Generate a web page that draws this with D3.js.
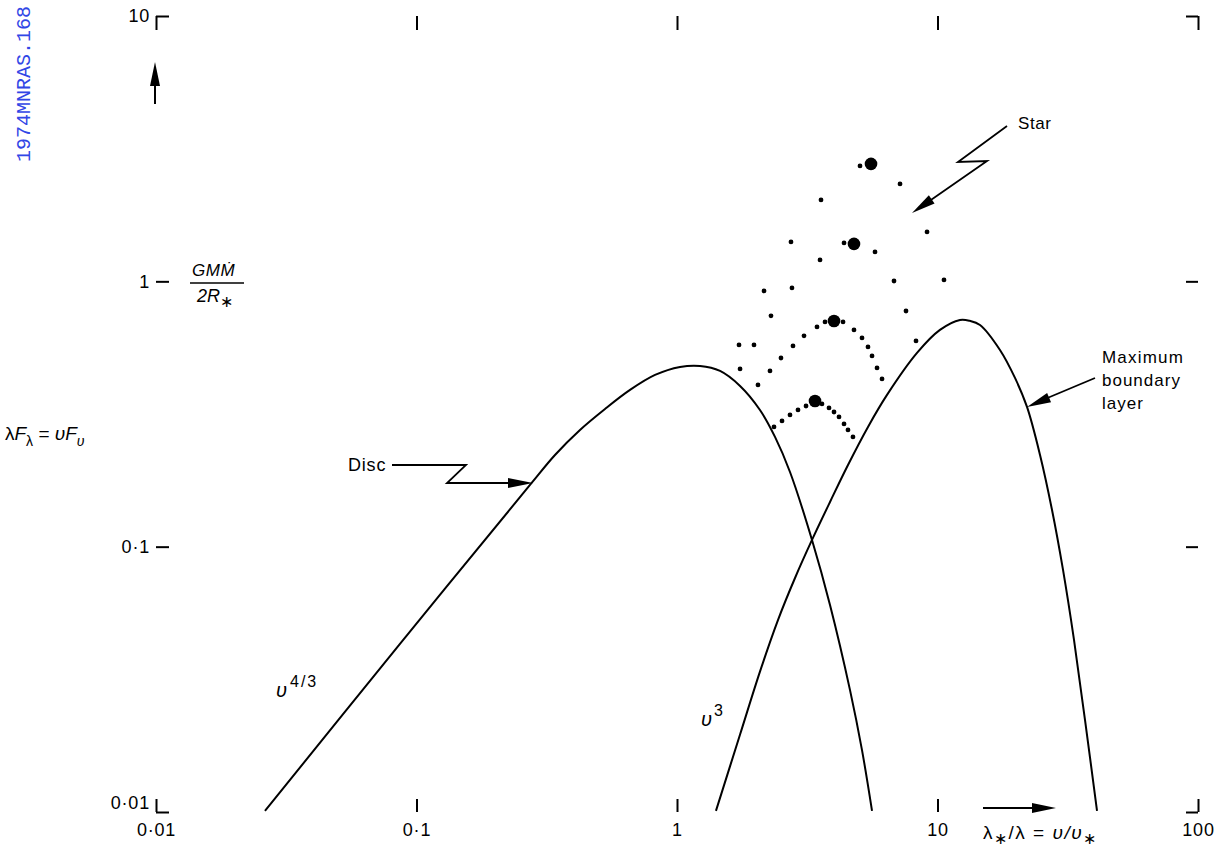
<!DOCTYPE html>
<html><head><meta charset="utf-8">
<script src="https://cdn.jsdelivr.net/npm/d3@7"></script>
<style>body{margin:0;background:#fff}svg{display:block}</style>
</head><body><svg id="c" width="1231" height="853"></svg>
<script>
// ---------------- data ----------------
const xTicks = [0.01, 0.1, 1, 10, 100];
const xTickLabels = ["0·01", "0·1", "1", "10", "100"];
const yTicks = [0.01, 0.1, 1, 10];
const yTickLabels = ["0·01", "0·1", "1", "10"];

// Disc spectrum (nu F_nu)
const discX = [0.0262, 0.0864, 0.2727, 0.3401, 0.4242, 0.5293, 0.6602, 0.8235, 1.027, 1.226, 1.463, 1.746, 2.082, 2.378, 2.715, 3.298, 3.867, 4.615, 5.131, 5.606];
const discY = [0.0101, 0.0430, 0.1709, 0.2216, 0.2754, 0.3304, 0.3897, 0.4438, 0.4757, 0.4799, 0.4596, 0.4034, 0.3275, 0.2592, 0.1912, 0.106, 0.0603, 0.0288, 0.0171, 0.0101];

// Maximum boundary layer spectrum
const layerX = [1.411, 1.746, 2.082, 2.441, 2.838, 3.298, 3.867, 4.533, 5.41, 6.40, 8.343, 10.22, 12.2, 13.3, 14.56, 17.37, 19.84, 22.06, 24.75, 27.52, 30.33, 33.42, 36.84, 40.96];
const layerY = [0.0101, 0.01959, 0.03382, 0.0529, 0.0762, 0.106, 0.1474, 0.2032, 0.2827, 0.3732, 0.5372, 0.6559, 0.7152, 0.7100, 0.6849, 0.5514, 0.4325, 0.3362, 0.2216, 0.1375, 0.0817, 0.0445, 0.0222, 0.0101];

// Star: large dots
const bigX = [5.556, 4.780, 4.006, 3.387];
const bigY = [2.771, 1.384, 0.709, 0.354];

// Star: small dots
const smallX = [5.041, 7.180, 3.571, 2.739, 4.377, 5.756, 3.540, 9.116, 2.158, 2.763, 6.808, 10.59, 2.295, 7.570, 8.270,
  3.700, 3.447, 3.073, 2.788, 2.507, 2.275, 2.046,
  4.339, 4.780, 5.131, 5.410, 5.606, 5.859, 6.124,
  1.730, 1.975, 1.746,
  2.357, 2.530, 2.715, 2.914, 3.128, 3.602, 3.833, 4.006, 4.187, 4.377, 4.533, 4.737];
const smallY = [2.723, 2.328, 2.027, 1.408, 1.396, 1.291, 1.204, 1.535, 0.920, 0.944, 1.003, 1.012, 0.741, 0.773, 0.596,
  0.703, 0.673, 0.623, 0.571, 0.514, 0.4596, 0.4069,
  0.703, 0.656, 0.612, 0.566, 0.5235, 0.4717, 0.4287,
  0.576, 0.576, 0.4676,
  0.2827, 0.2977, 0.3136, 0.3275, 0.3390, 0.3450, 0.3333, 0.3218, 0.3083, 0.2901, 0.2754, 0.2592];

// ---------------- drawing ----------------
const svg = d3.select("#c");
const FONT = "'Liberation Sans', Arial, sans-serif";
const x = d3.scaleLog().domain([0.01, 100]).range([156, 1198]);
const y = d3.scaleLog().domain([0.01, 10]).range([812, 16]);

// watermark
svg.append("text")
  .attr("transform", "translate(30,162) rotate(-90)")
  .attr("font-family", "'Liberation Mono', 'DejaVu Sans Mono', monospace")
  .attr("font-size", 20).attr("fill", "#3146e6")
  .text("1974MNRAS.168");

function styleAxis(g) {
  g.select(".domain").remove();
  g.selectAll(".tick line").attr("stroke", "#000").attr("stroke-width", 2);
  g.selectAll(".tick text").attr("font-family", FONT).attr("font-size", 18)
    .attr("letter-spacing", 0.8).attr("fill", "#000");
}

// bottom axis
svg.append("g").attr("transform", `translate(0,${y(0.01)})`)
  .call(d3.axisBottom(x).tickValues(xTicks).tickSize(-13).tickPadding(11)
    .tickFormat((d, i) => xTickLabels[i]))
  .call(styleAxis);
// top axis
svg.append("g").attr("transform", `translate(0,${y(10)})`)
  .call(d3.axisTop(x).tickValues(xTicks).tickSize(-14).tickFormat(""))
  .call(styleAxis);
// left axis
const ga = svg.append("g").attr("transform", `translate(${x(0.01)},0)`)
  .call(d3.axisLeft(y).tickValues(yTicks).tickSize(-13).tickPadding(6)
    .tickFormat((d, i) => yTickLabels[i]))
  .call(styleAxis);
ga.selectAll(".tick text").filter(d => d === 0.01).attr("dy", "-0.2em");
// right axis
svg.append("g").attr("transform", `translate(${x(100)},0)`)
  .call(d3.axisRight(y).tickValues(yTicks).tickSize(-12).tickFormat(""))
  .call(styleAxis);

// curves
const line = d3.line().x(d => x(d[0])).y(d => y(d[1])).curve(d3.curveCatmullRom.alpha(0.5));
svg.append("path").attr("d", line(discX.map((v, i) => [v, discY[i]])))
  .attr("fill", "none").attr("stroke", "#000").attr("stroke-width", 2);
svg.append("path").attr("d", line(layerX.map((v, i) => [v, layerY[i]])))
  .attr("fill", "none").attr("stroke", "#000").attr("stroke-width", 2);

// star dots
svg.append("g").selectAll("circle").data(smallX.map((v, i) => [v, smallY[i]])).join("circle")
  .attr("cx", d => x(d[0])).attr("cy", d => y(d[1])).attr("r", 2.4).attr("fill", "#000");
svg.append("g").selectAll("circle").data(bigX.map((v, i) => [v, bigY[i]])).join("circle")
  .attr("cx", d => x(d[0])).attr("cy", d => y(d[1])).attr("r", 6.3).attr("fill", "#000");

// ---------------- annotations ----------------
function arrowHead(tx, ty, fx, fy, len, hw) {
  const dx = tx - fx, dy = ty - fy, L = Math.hypot(dx, dy);
  const ux = dx / L, uy = dy / L;
  const bx = tx - ux * len, by = ty - uy * len;
  svg.append("path")
    .attr("d", `M${tx},${ty}L${bx - uy * hw},${by + ux * hw}L${bx + uy * hw},${by - ux * hw}Z`)
    .attr("fill", "#000");
}
function poly(pts, w) {
  svg.append("path").attr("d", d3.line()(pts)).attr("fill", "none")
    .attr("stroke", "#000").attr("stroke-width", w || 1.8).attr("stroke-linejoin", "miter");
}
function txt(tx, ty, s, size, extra) {
  const t = svg.append("text").attr("x", tx).attr("y", ty).attr("font-family", FONT)
    .attr("font-size", size || 17).attr("fill", "#000").text(s);
  if (extra) extra(t);
  return t;
}

// vertical arrow on y axis
poly([[155, 104], [155, 75]], 2);
arrowHead(155, 62, 155, 104, 24, 5);

// horizontal arrow on x axis
poly([[983, 808], [1035, 808]], 2);
arrowHead(1056, 808, 983, 808, 24, 5);

// Disc label
txt(348, 471, "Disc", 18, t => t.attr("letter-spacing", 0.8));
poly([[392, 465], [466, 465], [447, 483], [512, 483]]);
arrowHead(533, 483, 447, 483, 25, 5);

// Star label
txt(1018, 129, "Star", 17, t => t.attr("letter-spacing", 0.6));
poly([[1007, 126], [958, 162], [987, 161], [928, 202]]);
arrowHead(912, 213, 987, 161, 24, 5);

// Maximum boundary layer
txt(1102, 363, "Maximum", 17, t => t.attr("letter-spacing", 1.2));
txt(1102, 386, "boundary", 17, t => t.attr("letter-spacing", 1.0));
txt(1102, 409, "layer", 17, t => t.attr("letter-spacing", 1.0));
poly([[1095, 378], [1045, 399]]);
arrowHead(1027, 407, 1095, 378, 24, 5);

// slope labels
const u43 = txt(276, 697, "", 20, t => t.attr("font-style", "italic"));
u43.append("tspan").text("υ");
u43.append("tspan").attr("dx", 3).attr("dy", -10).attr("font-size", 16).attr("font-style", "normal")
  .attr("letter-spacing", 2).text("4/3");
const u3 = txt(701, 726, "", 20, t => t.attr("font-style", "italic"));
u3.append("tspan").text("υ");
u3.append("tspan").attr("dx", 2).attr("dy", -10).attr("font-size", 16).attr("font-style", "normal").text("3");

// y axis title
const yt = txt(5, 440, "", 19);
yt.append("tspan").text("λ");
yt.append("tspan").attr("font-style", "italic").text("F");
yt.append("tspan").attr("dy", 6).attr("font-size", 14).text("λ");
yt.append("tspan").attr("dy", -6).text(" = ");
yt.append("tspan").attr("font-style", "italic").text("υF");
yt.append("tspan").attr("dy", 6).attr("font-size", 14).attr("font-style", "italic").text("υ");

// GMMdot / 2R*
txt(192, 276, "GMṀ", 17, t => t.attr("font-style", "italic").attr("letter-spacing", 0.5));
poly([[190, 283], [244, 283]], 1.6);
const r2 = txt(197, 302, "", 18, t => t.attr("font-style", "italic"));
r2.append("tspan").text("2R");
r2.append("tspan").attr("dy", 5).attr("font-size", 16).attr("font-style", "normal").text("∗");

// x axis title
const xt = txt(983, 839, "", 19, t => t.attr("letter-spacing", 1.5));
xt.append("tspan").text("λ");
xt.append("tspan").attr("dy", 5).attr("font-size", 16).text("∗");
xt.append("tspan").attr("dy", -5).text("/λ = ");
xt.append("tspan").attr("font-style", "italic").text("υ/υ");
xt.append("tspan").attr("dy", 5).attr("font-size", 16).text("∗");
</script>
</body></html>
